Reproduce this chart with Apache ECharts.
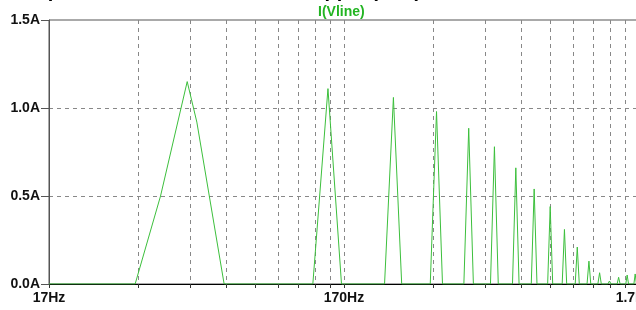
<!DOCTYPE html>
<html>
<head>
<meta charset="utf-8">
<script src="https://cdn.jsdelivr.net/npm/echarts@6/dist/echarts.min.js"></script>
<style>
  html, body { margin: 0; padding: 0; background: #fff; }
  #fft { width: 636px; height: 310px; }
</style>
</head>
<body>
<div id="fft"></div>
<script>
// FFT of the line current, odd harmonics of 50Hz
var traceFreq = [17, 33.3, 40.6, 50, 53.9, 66.7,
  133.3, 150, 166.7, 233.3, 250, 266.7, 333.3, 350, 366.7,
  433.3, 450, 466.7, 533.3, 550, 566.7, 633.3, 650, 666.7,
  733.3, 750, 766.7, 833.3, 850, 866.7, 933.3, 950, 966.7,
  1033.3, 1050, 1066.7, 1133.3, 1150, 1166.7, 1233.3, 1250, 1266.7,
  1333.3, 1350, 1366.7, 1433.3, 1450, 1466.7, 1533.3, 1550, 1566.7,
  1633.3, 1650, 1666.7, 1700];
var traceAmp = [0, 0, 0.50, 1.15, 0.92, 0,
  0, 1.11, 0, 0, 1.06, 0, 0, 0.98, 0,
  0, 0.885, 0, 0, 0.78, 0, 0, 0.66, 0,
  0, 0.54, 0, 0, 0.44, 0, 0, 0.31, 0,
  0, 0.21, 0, 0, 0.13, 0, 0, 0.064, 0,
  0, 0.017, 0, 0, 0.038, 0, 0, 0.051, 0,
  0, 0.057, 0, 0];

// grid lines / labels
var gridFreqs = [17, 34, 51, 68, 85, 102, 119, 136, 153, 170,
  340, 510, 680, 850, 1020, 1190, 1360, 1530, 1700];
var freqLabels = [17, 170, 1700];
var freqLabelText = ['17Hz', '170Hz', '1.7KHz'];

var chart = echarts.init(document.getElementById('fft'));

var points = traceFreq.map(function (f, i) { return [f, traceAmp[i]]; });

var option = {
  animation: false,
  backgroundColor: '#fff',
  title: {
    text: 'Input current harmonics with ripple (FFT)',
    left: 25,
    top: -24,
    textStyle: { color: '#000', fontSize: 20, fontWeight: 'bold', fontFamily: 'Liberation Sans' }
  },
  legend: {
    data: ['I(Vline)'],
    top: 0,
    left: 307,
    itemWidth: 0,
    itemHeight: 0,
    textStyle: { color: '#22b422', fontSize: 14, fontWeight: 'bold', fontFamily: 'Liberation Sans' }
  },
  grid: {
    left: 49,
    right: -3,
    top: 20,
    bottom: 26,
    outerBoundsMode: 'none',
    show: true,
    borderColor: '#555',
    borderWidth: 1
  },
  xAxis: {
    type: 'log',
    logBase: 10,
    min: 17,
    max: 1700,
    axisLine: { show: true, lineStyle: { color: '#000', width: 1 } },
    axisTick: { show: true, inside: false, length: 4, customValues: gridFreqs, lineStyle: { color: '#333' } },
    axisLabel: {
      customValues: freqLabels,
      margin: 7,
      color: '#111',
      fontSize: 14,
      fontWeight: 'bold',
      fontFamily: 'Liberation Sans',
      formatter: function (v) {
        var i = freqLabels.indexOf(Math.round(v));
        return i >= 0 ? freqLabelText[i] : '';
      }
    },
    splitLine: { show: true, lineStyle: { color: '#888', type: [4, 4], width: 1 } }
  },
  yAxis: {
    type: 'value',
    min: 0,
    max: 1.5,
    interval: 0.5,
    axisLine: { show: true, lineStyle: { color: '#555' } },
    axisTick: { show: true, length: 8, lineStyle: { color: '#555' } },
    axisLabel: {
      margin: 9,
      color: '#111',
      fontSize: 14,
      fontWeight: 'bold',
      fontFamily: 'Liberation Sans',
      formatter: function (v) { return v.toFixed(1) + 'A'; }
    },
    splitLine: { show: true, lineStyle: { color: ['#888', '#888', '#888', 'rgba(0,0,0,0)'], type: [4, 4], width: 1 } }
  },
  series: [{
    name: 'I(Vline)',
    type: 'line',
    data: points,
    symbol: 'none',
    lineStyle: { color: '#3cbf3c', width: 1 },
    itemStyle: { color: '#22b422' }
  }]
};

chart.setOption(option);
window.onresize = chart.resize;
</script>
</body>
</html>
